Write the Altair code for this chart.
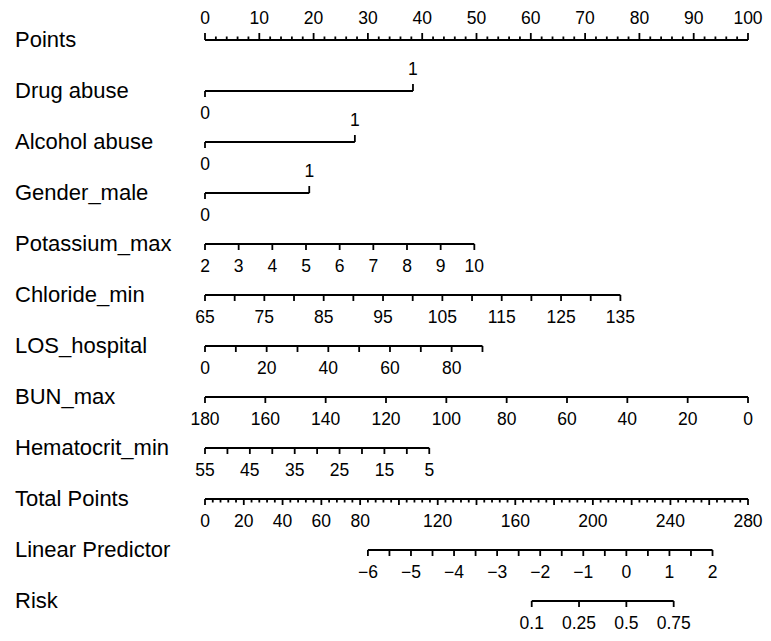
import altair as alt
import pandas as pd
import numpy as np

# ---------------- data ----------------
rows = ["Points", "Drug abuse", "Alcohol abuse", "Gender_male", "Potassium_max",
        "Chloride_min", "LOS_hospital", "BUN_max", "Hematocrit_min",
        "Total Points", "Linear Predictor", "Risk"]

# Points scale
points_major = [0, 10, 20, 30, 40, 50, 60, 70, 80, 90, 100]
points_minor = [2, 4, 6, 8, 12, 14, 16, 18, 22, 24, 26, 28, 32, 34, 36, 38,
                42, 44, 46, 48, 52, 54, 56, 58, 62, 64, 66, 68, 72, 74, 76, 78,
                82, 84, 86, 88, 92, 94, 96, 98]

# binary predictors: points earned by level 1
drug_pts = [0, 38.3]
alcohol_pts = [0, 27.6]
gender_pts = [0, 19.2]

# continuous predictors: value range -> points range
potassium_range = [2, 10]
potassium_pts = [0, 49.6]
potassium_ticks = [2, 3, 4, 5, 6, 7, 8, 9, 10]
potassium_labels = [2, 3, 4, 5, 6, 7, 8, 9, 10]

chloride_range = [65, 135]
chloride_pts = [0, 76.5]
chloride_ticks = [65, 70, 75, 80, 85, 90, 95, 100, 105, 110, 115, 120, 125, 130, 135]
chloride_labels = [65, 75, 85, 95, 105, 115, 125, 135]

los_range = [0, 90]
los_pts = [0, 51.1]
los_ticks = [0, 10, 20, 30, 40, 50, 60, 70, 80, 90]
los_labels = [0, 20, 40, 60, 80]

bun_range = [180, 0]
bun_pts = [0, 100]
bun_ticks = [180, 160, 140, 120, 100, 80, 60, 40, 20, 0]
bun_labels = [180, 160, 140, 120, 100, 80, 60, 40, 20, 0]

hct_range = [55, 5]
hct_pts = [0, 41.3]
hct_ticks = [55, 50, 45, 40, 35, 30, 25, 20, 15, 10, 5]
hct_labels = [55, 45, 35, 25, 15, 5]

# Total points
total_max = 280
total_major = [0, 20, 40, 60, 80, 100, 120, 140, 160, 180, 200, 220, 240, 260, 280]
total_minor = [4, 8, 12, 16, 24, 28, 32, 36, 44, 48, 52, 56, 64, 68, 72, 76,
               84, 88, 92, 96, 104, 108, 112, 116, 124, 128, 132, 136,
               144, 148, 152, 156, 164, 168, 172, 176, 184, 188, 192, 196,
               204, 208, 212, 216, 224, 228, 232, 236, 244, 248, 252, 256,
               264, 268, 272, 276]
total_labels = [0, 20, 40, 60, 80, 120, 160, 200, 240, 280]

# Linear predictor: value range -> total points range
lp_range = [-6, 2]
lp_total = [84.0, 261.7]
lp_ticks = [-6, -5.5, -5, -4.5, -4, -3.5, -3, -2.5, -2, -1.5, -1, -0.5, 0, 0.5, 1, 1.5, 2]
lp_labels = [-6, -5, -4, -3, -2, -1, 0, 1, 2]

# Risk
risk_ticks = [0.1, 0.25, 0.5, 0.75]
risk_labels = ["0.1", "0.25", "0.5", "0.75"]

# ---------------- build tables ----------------
def lin(v, vr, pr):
    v = np.asarray(v, dtype=float)
    return pr[0] + (v - vr[0]) / (vr[1] - vr[0]) * (pr[1] - pr[0])

def tot2pts(t):
    return np.asarray(t, dtype=float) / total_max * 100

def lp2pts(v):
    return tot2pts(lin(v, lp_range, lp_total))

def fmt(v):
    s = f"{v:g}"
    return s.replace("-", "\u2212")

lines, ticks, labels = [], [], []

def add_line(r, a, b):
    lines.append({"row": r, "x0": float(a), "x1": float(b)})

def add_ticks(r, pos, kind):
    for p in pos:
        ticks.append({"row": r, "x": float(p), "kind": kind})

def add_labels(r, pos, txt, where):
    for p, t in zip(pos, txt):
        labels.append({"row": r, "x": float(p), "text": t, "where": where})

# Points
add_line(0, 0, 100)
add_ticks(0, points_major, "up_major")
add_ticks(0, points_minor, "up_minor")
add_labels(0, points_major, [fmt(v) for v in points_major], "above")

# binary
for r, pts in [(1, drug_pts), (2, alcohol_pts), (3, gender_pts)]:
    add_line(r, pts[0], pts[1])
    add_ticks(r, [pts[0]], "down_major")
    add_ticks(r, [pts[1]], "up_major")
    add_labels(r, [pts[0]], ["0"], "below")
    add_labels(r, [pts[1]], ["1"], "above")

# continuous
for r, vr, pr, tk, lb in [
    (4, potassium_range, potassium_pts, potassium_ticks, potassium_labels),
    (5, chloride_range, chloride_pts, chloride_ticks, chloride_labels),
    (6, los_range, los_pts, los_ticks, los_labels),
    (7, bun_range, bun_pts, bun_ticks, bun_labels),
    (8, hct_range, hct_pts, hct_ticks, hct_labels),
]:
    tp = lin(tk, vr, pr)
    add_line(r, tp.min(), tp.max())
    add_ticks(r, tp, "down_major")
    add_labels(r, lin(lb, vr, pr), [fmt(v) for v in lb], "below")

# total points
add_line(9, 0, 100)
add_ticks(9, tot2pts(total_major), "down_major")
add_ticks(9, tot2pts(total_minor), "down_minor")
add_labels(9, tot2pts(total_labels), [fmt(v) for v in total_labels], "below")

# linear predictor
tp = lp2pts(lp_ticks)
add_line(10, tp.min(), tp.max())
add_ticks(10, tp, "down_major")
add_labels(10, lp2pts(lp_labels), [fmt(v) for v in lp_labels], "below")

# risk
rp = lp2pts(np.log(np.array(risk_ticks) / (1 - np.array(risk_ticks))))
add_line(11, rp.min(), rp.max())
add_ticks(11, rp, "down_major")
add_labels(11, rp, risk_labels, "below")

df_lines = pd.DataFrame(lines)
df_ticks = pd.DataFrame(ticks)
df_labels = pd.DataFrame(labels)
df_titles = pd.DataFrame({"row": list(range(len(rows))), "name": rows})

# ---------------- chart ----------------
FONT = "Liberation Sans"
xs = alt.Scale(domain=[0, 100], nice=False, zero=False)
ys = alt.Scale(domain=[0, 11], reverse=True, nice=False, zero=False)
X = lambda f: alt.X(f, type="quantitative", scale=xs, axis=None)
Y = alt.Y("row:Q", scale=ys, axis=None)
SW = 1.8

line_layer = alt.Chart(df_lines).mark_rule(color="black", strokeWidth=SW).encode(
    x=X("x0"), x2="x1", y=Y)

def tick_layer(kind, off):
    return alt.Chart(df_ticks).transform_filter(
        alt.datum.kind == kind
    ).mark_rule(color="black", strokeWidth=SW, y2Offset=off).encode(
        x=X("x"), y=Y, y2="row:Q")

layers = [line_layer,
          tick_layer("up_major", -7), tick_layer("up_minor", -3.5),
          tick_layer("down_major", 6), tick_layer("down_minor", 3.5)]

above = alt.Chart(df_labels).transform_filter(alt.datum.where == "above").mark_text(
    font=FONT, fontSize=17.5, color="black", align="center", baseline="alphabetic", dy=-16
).encode(x=X("x"), y=Y, text="text:N")
below = alt.Chart(df_labels).transform_filter(alt.datum.where == "below").mark_text(
    font=FONT, fontSize=17.5, color="black", align="center", baseline="alphabetic", dy=28
).encode(x=X("x"), y=Y, text="text:N")

titles = alt.Chart(df_titles).mark_text(
    font=FONT, fontSize=22, color="black", align="left", baseline="alphabetic", dy=7
).encode(x=alt.value(-190), y=Y, text="name:N")

chart = alt.layer(*layers, above, below, titles).properties(
    width=543, height=561,
    autosize=alt.AutoSizeParams(type="none"),
    padding={"left": 197, "top": 32, "right": 15, "bottom": 32},
).configure_view(strokeWidth=0)

chart.save("out.html", embed_options={"renderer": "svg", "actions": False})
